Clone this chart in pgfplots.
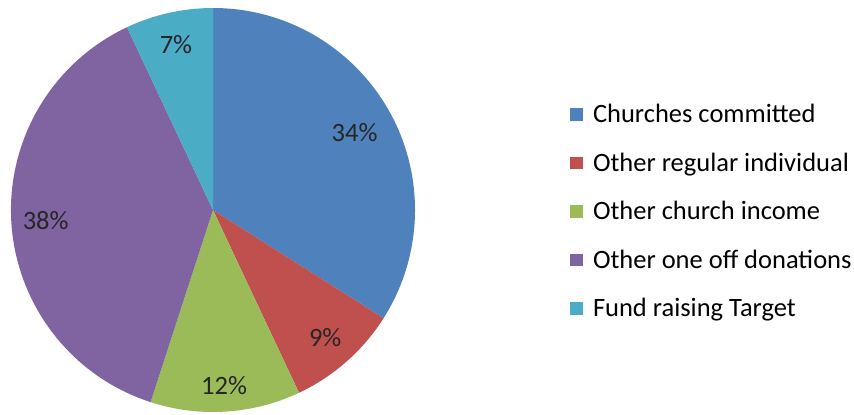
\documentclass[border=0pt]{standalone}
\usepackage{pgfplots}
\pgfplotsset{compat=1.18}
\usepackage{pgfplotstable}
\usepackage{fontspec}
\setmainfont{Carlito}
\definecolor{pie0}{HTML}{4F81BD}
\definecolor{pie1}{HTML}{C0504D}
\definecolor{pie2}{HTML}{9BBB59}
\definecolor{pie3}{HTML}{8064A2}
\definecolor{pie4}{HTML}{4BACC6}
\newcommand\piefont{\fontsize{26.5bp}{32bp}\selectfont}
\pgfplotstableread{
value lr
34 0.80
9 0.84
12 0.87
38 0.83
7 0.84
}\piedata
\begin{document}
\begin{tikzpicture}
\begin{axis}[
  x=1bp, y=1bp, xmin=0, xmax=854, ymin=0, ymax=414,
  hide axis, clip=false,
  legend cell align=left,
  legend style={draw=none, fill=none, at={(axis cs:570,201)}, anchor=west,
    font=\piefont, row sep=25.5bp, inner sep=0pt, outer sep=0pt,
    nodes={inner sep=0pt, outer sep=0pt, text height=18bp, text depth=5bp, anchor=west},
    /tikz/every even column/.style={column sep=0bp}},
  legend image code/.code={\path[draw=none,fill=none] (0bp,0bp) -- (23bp,0bp);\fill[#1,draw=none] (0bp,-4.5bp) rectangle (12.5bp,8bp);},
]
\coordinate (bl) at (axis cs:0,0);
\coordinate (tr) at (axis cs:854,414);
\def\cum{0}
\pgfplotsforeachungrouped \i in {0,...,4} {%
  \pgfplotstablegetelem{\i}{value}\of\piedata \let\v\pgfplotsretval
  \pgfplotstablegetelem{\i}{lr}\of\piedata \let\lr\pgfplotsretval
  \pgfmathsetmacro\a{90-3.6*\cum}%
  \pgfmathsetmacro\b{90-3.6*(\cum+\v)}%
  \pgfmathsetmacro\m{(\a+\b)/2}%
  \pgfmathsetmacro\ax{213+202*cos(\a)}%
  \pgfmathsetmacro\ay{204+202*sin(\a)}%
  \pgfmathsetmacro\lx{213+\lr*202*cos(\m)}%
  \pgfmathsetmacro\ly{204+\lr*202*sin(\m)}%
  \edef\temp{\noexpand\fill[pie\i] (axis cs:213,204) -- (axis cs:\ax,\ay) arc[start angle=\a, end angle=\b, radius=202bp] -- cycle;
    \noexpand\node[font=\noexpand\piefont, text=black!85] at (axis cs:\lx,\ly) {\v\noexpand\%};}%
  \temp
  \pgfmathsetmacro\cum{\cum+\v}%
}
\addlegendimage{fill=pie0}\addlegendentry{Churches committed}
\addlegendimage{fill=pie1}\addlegendentry{Other regular individual}
\addlegendimage{fill=pie2}\addlegendentry{Other church income}
\addlegendimage{fill=pie3}\addlegendentry{Other one off donations}
\addlegendimage{fill=pie4}\addlegendentry{Fund raising Target}
\end{axis}
\pgfresetboundingbox
\useasboundingbox (bl) rectangle (tr);
\end{tikzpicture}
\end{document}
